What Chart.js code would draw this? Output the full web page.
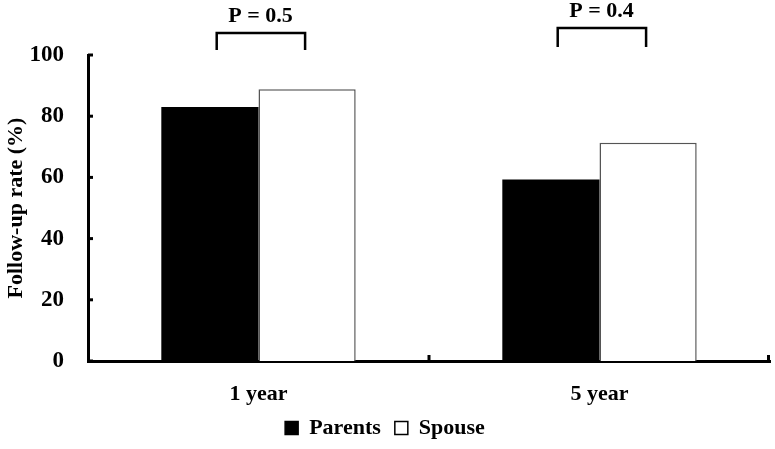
<!DOCTYPE html>
<html><head><meta charset="utf-8">
<script src="https://cdn.jsdelivr.net/npm/chart.js@4"></script>
<style>html,body{margin:0;padding:0;background:#fff}#wrap{width:775px;height:449px}</style>
</head><body><div id="wrap"><canvas id="c" width="775" height="449"></canvas></div>
<script>
const categories = ['1 year', '5 year'];
const parents = [83, 59.3];
const spouse = [88.8, 71.3];
const seriesNames = ['Parents', 'Spouse'];
const pLabels = ['P = 0.5', 'P = 0.4'];
const bracketTop = [107.2, 108.8];
const bracketLeg = [101.6, 102.6];
const yTicks = [0, 20, 40, 60, 80, 100];

const FONT = 'Liberation Serif';

const overlay = {
  id: 'overlay',
  afterDraw(chart) {
    const ctx = chart.ctx;
    const xs = chart.scales.x, ys = chart.scales.y;
    const area = chart.chartArea;
    ctx.save();
    ctx.strokeStyle = '#000';
    ctx.lineWidth = 3;
    yTicks.forEach(v => {
      const y = ys.getPixelForValue(v);
      ctx.beginPath(); ctx.moveTo(area.left, y); ctx.lineTo(area.left + 5, y); ctx.stroke();
    });
    for (let i = 0; i < categories.length; i++) {
      const x = i < categories.length - 1 ? (xs.getPixelForValue(i) + xs.getPixelForValue(i + 1)) / 2 : area.right - 1.5;
      ctx.beginPath(); ctx.moveTo(x, area.bottom); ctx.lineTo(x, area.bottom - 6); ctx.stroke();
    }
    const m0 = chart.getDatasetMeta(0), m1 = chart.getDatasetMeta(1);
    ctx.lineWidth = 2.5;
    ctx.fillStyle = '#000';
    ctx.font = 'bold 22px "' + FONT + '"';
    ctx.textAlign = 'center';
    ctx.textBaseline = 'middle';
    for (let i = 0; i < categories.length; i++) {
      const b0 = m0.data[i], b1 = m1.data[i];
      const x1 = b0.x + b0.width * 0.07;
      const x2 = b1.x - 2;
      const yt = ys.getPixelForValue(bracketTop[i]);
      const yl = ys.getPixelForValue(bracketLeg[i]);
      ctx.beginPath();
      ctx.moveTo(x1, yl); ctx.lineTo(x1, yt); ctx.lineTo(x2, yt); ctx.lineTo(x2, yl);
      ctx.stroke();
      ctx.fillText(pLabels[i], (b0.x + b1.x) / 2 + 2, yt - 17);
    }
    ctx.restore();
  }
};

new Chart(document.getElementById('c'), {
  type: 'bar',
  data: {
    labels: categories,
    datasets: [
      { label: seriesNames[0], data: parents, backgroundColor: '#000', borderColor: '#000', borderWidth: 0 },
      { label: seriesNames[1], data: spouse, backgroundColor: '#fff', borderColor: '#555', borderWidth: 1.5 }
    ]
  },
  options: {
    responsive: false,
    animation: false,
    devicePixelRatio: 1,
    datasets: { bar: { categoryPercentage: 0.57, barPercentage: 1.0 } },
    layout: { padding: { top: 55, right: 5, left: 0, bottom: 0 } },
    plugins: {
      legend: {
        position: 'bottom',
        labels: {
          color: '#000',
          font: { family: FONT, weight: 'bold', size: 22 },
          boxWidth: 13, boxHeight: 13, padding: 3,
          generateLabels(chart) {
            return chart.data.datasets.map((d, i) => ({
              text: i === 0 ? d.label + '  ' : d.label, fillStyle: i === 0 ? '#000' : '#fff', strokeStyle: '#000',
              lineWidth: 1.5, hidden: false, datasetIndex: i, fontColor: '#000'
            }));
          }
        }
      },
      tooltip: { enabled: false }
    },
    scales: {
      x: {
        grid: { display: false, drawTicks: false },
        border: { display: true, color: '#000', width: 3 },
        ticks: { color: '#000', font: { family: FONT, weight: 'bold', size: 22 }, padding: 20 },
        afterFit(s) { s.height = 53; }
      },
      y: {
        min: 0, max: 100,
        grid: { display: false, drawTicks: false },
        border: { display: true, color: '#000', width: 3 },
        ticks: { stepSize: 20, color: '#000', font: { family: FONT, weight: 'bold', size: 23 }, padding: 24 },
        title: { display: true, text: 'Follow-up rate (%)', color: '#000', font: { family: FONT, weight: 'bold', size: 22 }, padding: { top: 3, bottom: 0 } },
        afterFit(s) { s.width = 88; }
      }
    }
  },
  plugins: [overlay]
});
</script>
</body></html>
